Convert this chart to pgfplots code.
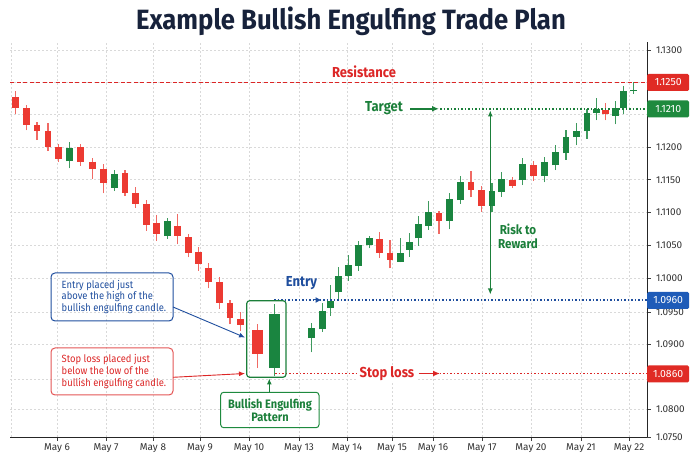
\documentclass[border=0pt]{standalone}
\usepackage{pgfplots}
\pgfplotsset{compat=1.18}
\usepackage{pgfplotstable}
\usetikzlibrary{arrows.meta}
\usepackage{fontspec}
\setmainfont{Fira Sans}
\newfontfamily\condfont[FakeStretch=0.9]{Fira Sans}
\newfontfamily\titlefont[FakeStretch=0.92]{Fira Sans}

\definecolor{navy}{HTML}{17223B}
\definecolor{bearred}{HTML}{EC3A32}
\definecolor{bearwick}{HTML}{F06A64}
\definecolor{bullgreen}{HTML}{1A8540}
\definecolor{bullwick}{HTML}{3E9A5E}
\definecolor{resred}{HTML}{DC2626}
\definecolor{boxred}{HTML}{E02B25}
\definecolor{tgreen}{HTML}{1B7F3A}
\definecolor{boxgreen}{HTML}{1E8A3E}
\definecolor{eblue}{HTML}{1F4E9E}
\definecolor{boxblue}{HTML}{1E5BB8}
\definecolor{lightred}{HTML}{E45656}

% piecewise-linear price scale of the reference's axis
\makeatletter
\newdimen\trA
\newdimen\trB
\def\pricetrafo#1{%
  \pgfmathfloatparsenumber{#1}%
  \pgfmathfloattofixed{\pgfmathresult}%
  \trA=\pgfmathresult pt\relax
  \advance\trA by -1.075pt\relax
  \trA=10000\trA
  \ifdim\trA<50pt
    \trB=0.56\trA
  \else\ifdim\trA<110pt
    \advance\trA by -50pt \trB=0.591667\trA \advance\trB by 28pt
  \else\ifdim\trA<150pt
    \advance\trA by -110pt \trB=0.7375\trA \advance\trB by 63.5pt
  \else\ifdim\trA<200pt
    \advance\trA by -150pt \trB=0.64\trA \advance\trB by 93pt
  \else\ifdim\trA<210pt
    \advance\trA by -200pt \trB=1.2\trA \advance\trB by 125pt
  \else\ifdim\trA<250pt
    \advance\trA by -210pt \trB=0.55\trA \advance\trB by 137pt
  \else\ifdim\trA<450pt
    \advance\trA by -250pt \trB=0.655\trA \advance\trB by 159pt
  \else\ifdim\trA<460pt
    \advance\trA by -450pt \trB=3.8\trA \advance\trB by 290pt
  \else\ifdim\trA<500pt
    \advance\trA by -460pt \trB=0.675\trA \advance\trB by 328pt
  \else
    \advance\trA by -500pt \trB=0.64\trA \advance\trB by 355pt
  \fi\fi\fi\fi\fi\fi\fi\fi\fi
  \edef\pgfmathresult{\pgf@sys@tonumber\trB}%
}
\makeatother

\pgfplotstableread{
x     o       h       l       c       w
15.7  1.12273 1.12367 1.12086 1.12119 6.6
26.3  1.12110 1.12159 1.12043 1.12058 6.6
37.0  1.12057 1.12065 1.12018 1.12040 6.6
47.9  1.12042 1.12064 1.11939 1.12000 6.6
58.5  1.12000 1.12007 1.11776 1.11821 6.6
69.3  1.11782 1.12012 1.11675 1.11985 6.6
80.2  1.11995 1.12007 1.11714 1.11776 6.6
92.3  1.11779 1.11835 1.11511 1.11660 6.6
103.3 1.11660 1.11740 1.11293 1.11446 6.6
114.3 1.11379 1.11649 1.11328 1.11595 6.6
125.0 1.11598 1.11656 1.11252 1.11293 6.6
135.7 1.11293 1.11385 1.11073 1.11130 6.6
146.2 1.11130 1.11195 1.10722 1.10806 6.6
156.7 1.10840 1.10957 1.10569 1.10667 6.6
167.2 1.10638 1.10911 1.10600 1.10866 6.6
177.5 1.10794 1.10969 1.10515 1.10634 6.6
188.3 1.10621 1.10672 1.10316 1.10386 6.6
198.3 1.10392 1.10478 1.10111 1.10209 6.6
208.7 1.10153 1.10224 1.09813 1.09933 6.6
219.3 1.09918 1.10020 1.09525 1.09578 6.6
230.0 1.09573 1.09600 1.09305 1.09402 6.6
240.7 1.09391 1.09495 1.09203 1.09297 6.6
257.7 1.09219 1.09308 1.08671 1.08860 11
274.3 1.08671 1.09569 1.08558 1.09473 11.5
311.7 1.09089 1.09333 1.08885 1.09245 6.8
322.3 1.09230 1.09572 1.09192 1.09508 6.8
330.7 1.09533 1.09873 1.09438 1.09593 6.8
338.3 1.09740 1.10173 1.09600 1.10035 6.8
348.3 1.10031 1.10344 1.09945 1.10195 6.8
358.7 1.10183 1.10560 1.10107 1.10511 6.8
369.3 1.10496 1.10641 1.10453 1.10606 6.8
379.8 1.10592 1.10702 1.10305 1.10386 6.8
390.0 1.10379 1.10573 1.10148 1.10278 6.8
400.8 1.10249 1.10614 1.10240 1.10385 6.8
409.3 1.10427 1.10679 1.10321 1.10547 6.8
418.2 1.10606 1.10947 1.10489 1.10820 6.8
428.3 1.10798 1.11183 1.10737 1.11005 6.8
439.0 1.10995 1.11018 1.10676 1.10870 6.8
449.5 1.10872 1.11298 1.10744 1.11214 6.8
460.3 1.11191 1.11553 1.11130 1.11469 6.8
471.0 1.11469 1.11638 1.11232 1.11343 6.8
481.5 1.11339 1.11400 1.11012 1.11102 6.8
492.0 1.11102 1.11450 1.11008 1.11331 6.8
501.8 1.11321 1.11614 1.11241 1.11507 6.8
512.5 1.11492 1.11542 1.11379 1.11412 6.8
522.7 1.11493 1.11837 1.11420 1.11736 6.8
533.5 1.11722 1.11789 1.11481 1.11557 6.8
544.3 1.11557 1.11852 1.11461 1.11776 6.8
555.3 1.11721 1.12005 1.11649 1.11919 6.8
566.0 1.11904 1.12043 1.11806 1.12026 6.8
576.5 1.12025 1.12063 1.12004 1.12042 6.8
587.0 1.12040 1.12104 1.12021 1.12089 6.8
596.7 1.12089 1.12270 1.12070 1.12106 6.8
605.5 1.12097 1.12196 1.12069 1.12086 6.8
615.2 1.12082 1.12226 1.12059 1.12115 6.8
623.7 1.12110 1.12441 1.12086 1.12367 6.8
633.5 1.12359 1.12500 1.12325 1.12379 6.8
}\candles
\pgfplotstablegetrowsof{\candles}
\pgfmathtruncatemacro{\lastrow}{\pgfplotsretval-1}

\begin{document}
\begin{tikzpicture}
\useasboundingbox (0,0) rectangle (700bp,466bp);
\begin{axis}[
  at={(10bp,29bp)}, anchor=south west,
  scale only axis, width=637bp, height=395.32bp,
  xmin=10, xmax=647,
  ymin=1.075, ymax=1.1313,
  y coord trafo/.code={\pricetrafo{#1}},
  axis x line=bottom, axis y line=right,
  axis line style={-, draw=black!85, line width=0.9bp},
  xtick={57,106,153,200,249,299,347,392,433,482,531,581,629},
  xticklabels={May 6,May 7,May 8,May 9,May 10,May 13,May 14,May 15,May 16,May 17,May 20,May 21,May 22},
  extra x ticks={11}, extra x tick labels={},
  extra x tick style={grid=major, major tick length=0pt},
  ytick={1.075,1.08,1.085,1.09,1.095,1.1,1.105,1.11,1.115,1.12,1.12087,1.125,1.13},
  yticklabels={1.0750,1.0800,,1.0900,1.0950,1.1000,1.1050,1.1100,1.1150,1.1200,,,1.1300},
  tick align=outside, major tick length=3.5bp,
  tick style={black!75, line width=0.6bp},
  grid=major,
  grid style={black!15, dash pattern=on 2bp off 2bp, line width=0.6bp},
  ticklabel style={font=\fontsize{10}{12}\selectfont, text=black!80},
  yticklabel style={xshift=2bp},
]
\pgfplotsinvokeforeach{0,...,\lastrow}{%
  \pgfplotstablegetelem{#1}{x}\of\candles \let\cx\pgfplotsretval
  \pgfplotstablegetelem{#1}{o}\of\candles \let\co\pgfplotsretval
  \pgfplotstablegetelem{#1}{h}\of\candles \let\ch\pgfplotsretval
  \pgfplotstablegetelem{#1}{l}\of\candles \let\cl\pgfplotsretval
  \pgfplotstablegetelem{#1}{c}\of\candles \let\cc\pgfplotsretval
  \pgfplotstablegetelem{#1}{w}\of\candles \let\cw\pgfplotsretval
  \ifdim\cc pt<\co pt \def\bodycol{bearred}\def\wickcol{bearwick}%
  \else \def\bodycol{bullgreen}\def\wickcol{bullwick}\fi
  \edef\temp{%
    \noexpand\addplot[forget plot, draw=\wickcol, line width=1.3bp] coordinates {(\cx,\cl) (\cx,\ch)};
    \noexpand\addplot[forget plot, draw=\bodycol, line width=\cw bp] coordinates {(\cx,\co) (\cx,\cc)};
  }\temp
}
% key levels
\addplot[forget plot, resred, line width=1bp, dash pattern=on 4bp off 2.5bp] coordinates {(10,1.125) (647,1.125)};
\addplot[forget plot, tgreen, line width=1.3bp, dash pattern=on 1.6bp off 1.9bp] coordinates {(440,1.121) (647,1.121)};
\addplot[forget plot, eblue, line width=1.3bp, dash pattern=on 1.6bp off 1.9bp] coordinates {(274,1.096) (647,1.096)};
\addplot[forget plot, resred, line width=1.3bp, dash pattern=on 1.6bp off 1.9bp] coordinates {(275,1.086) (647,1.086)};
\end{axis}

\begin{scope}[shift={(0bp,466bp)}, x=1bp, y=-1bp]
  % title
  \node[font=\titlefont\bfseries\fontsize{28}{32}\selectfont, text=navy] at (351,21) {Example Bullish Engulfing Trade Plan};
  % level labels
  \node[font=\condfont\bfseries\fontsize{14.5}{16}\selectfont, text=resred] at (364,72) {Resistance};
  \node[font=\condfont\bfseries\fontsize{14.5}{16}\selectfont, text=tgreen] at (384,108.5) {Target};
  \draw[tgreen, line width=1.8bp, -{Latex[length=7bp,width=6bp]}] (410,108.8) -- (439,108.8);
  \node[font=\condfont\bfseries\fontsize{14.5}{16}\selectfont, text=eblue] at (301.5,283.5) {Entry};
  \draw[eblue, line width=1bp, -{Latex[length=6bp,width=6bp]}] (313,300) -- (321.5,300);
  \node[font=\condfont\bfseries\fontsize{14.5}{16}\selectfont, text=resred, fill=white, inner xsep=3bp, inner ysep=1bp] at (387,373.5) {Stop loss};
  \draw[resred, line width=1.8bp, -{Latex[length=7bp,width=6bp]}] (419,373.5) -- (440,373.5);
  % risk to reward
  \draw[tgreen, line width=1.1bp, {Latex[length=6bp,width=5bp]}-{Latex[length=6bp,width=5bp]}] (490.3,110.5) -- (490.3,294.5);
  \node[font=\condfont\bfseries\fontsize{13}{14}\selectfont, text=tgreen, align=center] at (518,236.5) {Risk to\\Reward};
  % pattern box
  \draw[tgreen, line width=1.2bp, rounded corners=3bp] (246.7,300.7) rectangle (286,377.3);
  \draw[boxgreen, line width=1bp, rounded corners=3bp] (220.7,392.3) rectangle (319,427.7);
  \node[font=\condfont\bfseries\fontsize{12.3}{13.4}\selectfont, text=tgreen, align=center] at (270,410) {Bullish Engulfing\\Pattern};
  \draw[tgreen, line width=1bp, -{Latex[length=6bp,width=5bp]}] (269.3,392.3) -- (269.3,378.5);
  % entry note
  \draw[eblue, line width=1bp, rounded corners=4bp] (51,273) rectangle (173,321);
  \node[font=\condfont\fontsize{10.5}{12}\selectfont, text=eblue, align=left, anchor=west, inner sep=0pt] at (61.5,297) {Entry placed just\\above the high of the\\bullish engulfing candle.};
  \draw[eblue, line width=0.9bp, -{Latex[length=6bp,width=5bp]}] (173,307) -- (245,337.5);
  % stop note
  \draw[lightred, line width=1bp, rounded corners=4bp] (51,348) rectangle (173,395);
  \node[font=\condfont\fontsize{10.5}{12}\selectfont, text=resred, align=left, anchor=west, inner sep=0pt] at (61.5,371.3) {Stop loss placed just\\below the low of the\\bullish engulfing candle.};
  \draw[resred, line width=0.9bp, -{Latex[length=6bp,width=5bp]}] (173,377.3) -- (245,373.5);
  % price boxes
  \foreach \yy/\col/\txt in {82.5/boxred/1.1250, 109/boxgreen/1.1210, 300.5/boxblue/1.0960, 374/boxred/1.0860}{
    \node[fill=\col, text=white, font=\fontsize{10.5}{12}\selectfont, minimum width=42bp, minimum height=17bp, inner sep=0pt, anchor=west, rounded corners=1.5bp] at (647,\yy) {\txt};
  }
\end{scope}
\end{tikzpicture}
\end{document}
